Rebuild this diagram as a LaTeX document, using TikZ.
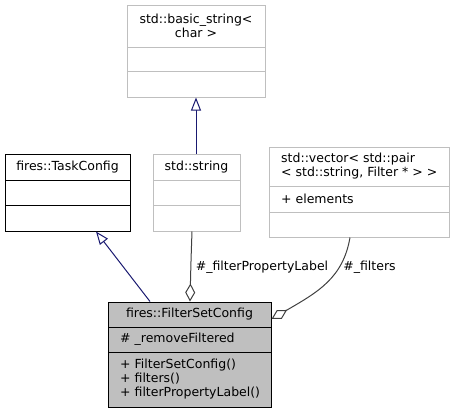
\documentclass[tikz,border=0pt]{standalone}
\usepackage{fontspec}
\setmainfont{DejaVu Sans}
\usetikzlibrary{arrows.meta}
\definecolor{grey75}{HTML}{BFBFBF}
\definecolor{grey25}{HTML}{404040}
\definecolor{midnight}{HTML}{191970}
\tikzset{
  classbox/.style={draw=grey75, line width=1pt, fill=white, inner sep=0pt, rectangle},
  mainbox/.style={classbox, draw=black, fill=grey75},
  docbox/.style={classbox, draw=black},
  divider/.style={line width=1pt},
  txt/.style={inner sep=0pt, font=\fontsize{12.5}{14}\selectfont},
  ltxt/.style={txt, anchor=west, align=left},
  ctxt/.style={txt, align=center},
  inherit/.style={draw=midnight, line width=1pt,
    -{Triangle[open, length=13pt, width=10pt, fill=white]}},
  assoc/.style={draw=grey25, line width=1pt,
    -{Diamond[open, length=18pt, width=10pt, fill=white]}},
}
\begin{document}
\begin{tikzpicture}[x=1pt, y=-1pt]
\useasboundingbox (0,0) rectangle (455,413);

% std::basic_string< char >
\node[classbox, minimum width=138pt, minimum height=92pt] (basic) at (196,51) {};
\draw[divider, grey75] (127,47) -- (265,47) (127,71) -- (265,71);
\node[ctxt] (basicT) at (196,26) {std::basic\_string<\\char >};

% fires::TaskConfig
\node[docbox, minimum width=125pt, minimum height=77pt] (task) at (67.5,192.5) {};
\draw[divider, black] (5,180) -- (130,180) (5,205) -- (130,205);
\node[txt] (taskT) at (67.5,167) {fires::TaskConfig};

% std::string
\node[classbox, minimum width=87pt, minimum height=77pt] (str) at (196.5,192.5) {};
\draw[divider, grey75] (153,180) -- (240,180) (153,205) -- (240,205);
\node[txt] (strT) at (196.5,167) {std::string};

% std::vector< std::pair< std::string, Filter * > >
\node[classbox, minimum width=180pt, minimum height=90pt] (vec) at (359,192) {};
\draw[divider, grey75] (269,186) -- (449,186) (269,212) -- (449,212);
\node[ltxt] (vecT) at (281,166) {std::vector< std::pair\\< std::string, Filter * > >};
\node[ltxt] (vecA) at (281,199) {+ elements};

% fires::FilterSetConfig
\node[mainbox, minimum width=163pt, minimum height=105pt] (fsc) at (189.5,354.5) {};
\draw[divider, black] (108,327) -- (271,327) (108,352) -- (271,352);
\node[txt] (fscT) at (189.5,314) {fires::FilterSetConfig};
\node[ltxt] (fscA) at (120,339) {\# \_removeFiltered};
\node[ltxt] (fscO) at (120,379) {+ FilterSetConfig()\\+ filters()\\+ filterPropertyLabel()};

% inheritance
\draw[inherit] (str.north -| 196,0) -- (basic.south -| 196,0);
\draw[inherit] (fsc.north -| 150,0) -- (task.south -| 96,0);

% aggregation
\draw[assoc] (str.south -| 192,0) .. controls (191,260) .. (fsc.north -| 190,0);
\draw[assoc] (vec.south -| 350,0) .. controls (343,278) and (318,292) .. (fsc.east |- 0,319);
\node[txt] (lblA) at (262,267) {\#\_filterPropertyLabel};
\node[txt] (lblB) at (369.5,267) {\#\_filters};
\end{tikzpicture}
\end{document}
